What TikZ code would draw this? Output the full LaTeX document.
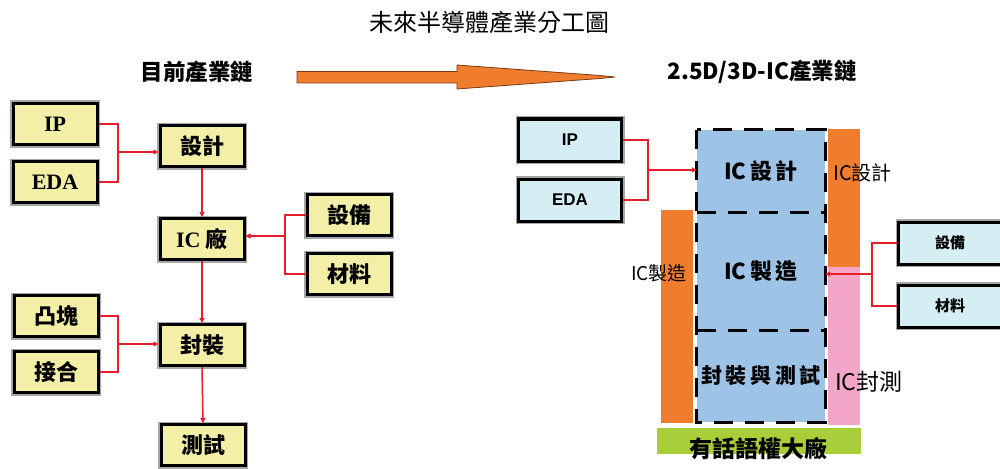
\documentclass[tikz,border=0pt]{standalone}
\usepackage{fontspec}
\setmainfont{Liberation Serif}
\newfontfamily\cjk{Noto Sans CJK TC}
\newfontfamily\arial{Liberation Sans}
\usetikzlibrary{arrows.meta}
\definecolor{boxyellow}{HTML}{F3EFA6}
\definecolor{boxcyan}{HTML}{D5EEF4}
\definecolor{icblue}{HTML}{9DC3E6}
\definecolor{barorange}{HTML}{F07D2E}
\definecolor{barpink}{HTML}{F3A6C8}
\definecolor{bargreen}{HTML}{A8CE3A}
\definecolor{linkred}{HTML}{E41E2B}
\definecolor{arrowedge}{HTML}{7A3A10}
\tikzset{
  framed/.style={draw=black, line width=3pt, preaction={draw=gray!70, line width=6pt}},
  ybox/.style={framed, fill=boxyellow, minimum width=84pt, minimum height=41pt, inner sep=0pt,
    font=\fontsize{22}{24}\selectfont\bfseries},
  cbox/.style={framed, fill=boxcyan, minimum width=103pt, minimum height=42pt, inner sep=0pt},
  link/.style={draw=linkred, line width=1.5pt},
  linkarrow/.style={link, -{Triangle[length=5pt,width=5pt]}},
  region/.style={minimum width=128pt, inner sep=0pt},
  dashline/.style={draw=black, line width=3pt, dash pattern=on 19pt off 12pt},
}
\begin{document}
\begin{tikzpicture}[x=1pt,y=-1pt]
\useasboundingbox (0,0) rectangle (1000,468);

% titles
\node (title) at (489,22) {\cjk\fontsize{24}{28}\selectfont 未來半導體產業分工圖};
\node (cur) at (197,72) {\cjk\bfseries\fontsize{22.5}{26}\selectfont 目前產業鏈};
\node (fut) at (762,72) {\cjk\bfseries\fontsize{22.5}{26}\selectfont 2.5D/3D-IC產業鏈};
\draw[fill=barorange, draw=arrowedge, line width=0.8pt]
  (297,71.5) -- (457,71.5) -- (457,65) -- (600,75.5) -- (615,77) -- (600,78.5) -- (457,89) -- (457,83) -- (297,83) -- cycle;

% left chain
\node[ybox] (ip) at (55,124) {IP};
\node[ybox] (eda) at (55,182) {EDA};
\node[ybox] (sj) at (202,146) {\cjk 設計};
\node[ybox] (icf) at (202,239) {IC \cjk 廠};
\node[ybox] (eq) at (349,215) {\cjk 設備};
\node[ybox] (mat) at (349,274) {\cjk 材料};
\node[ybox] (bump) at (56,316) {\cjk 凸塊};
\node[ybox] (bond) at (56,372) {\cjk 接合};
\node[ybox] (pkg) at (202,345) {\cjk 封裝};
\node[ybox] (test) at (203,445) {\cjk 測試};

\coordinate (j1) at (118,152);
\coordinate (j2) at (285,236);
\coordinate (j3) at (118,344);
\draw[link] (ip.east) -| (j1) |- (eda.east);
\draw[linkarrow] (j1) -- (sj.west |- j1);
\draw[link] (eq.west) -| (j2) |- (mat.west);
\draw[linkarrow] (j2) -- (icf.east |- j2);
\draw[link] (bump.east) -| (j3) |- (bond.east);
\draw[linkarrow] (j3) -- (pkg.west |- j3);
\draw[linkarrow] (sj.south) -- (icf.north);
\draw[linkarrow] (icf.south) -- (pkg.north);
\draw[linkarrow] (pkg.south) -- (test.north);

% right side bars
\fill[barorange] (661,210) rectangle (693,423);
\fill[barorange] (828,129) rectangle (860,267);
\fill[barpink] (828,267) rectangle (860,425);
\fill[bargreen] (657,428) rectangle (861,454);

% dashed stack
\fill[icblue] (697,130) rectangle (825,422);
\node[region, minimum height=82pt] (icd) at (761,171) {\cjk\bfseries\fontsize{22}{26}\selectfont IC\,設\,計};
\node[region, minimum height=118pt] (icm) at (761,271) {\cjk\bfseries\fontsize{22}{26}\selectfont IC\,製\,造};
\node[region, minimum height=92pt] (ict) at (761,376) {\cjk\bfseries\fontsize{21}{26}\selectfont 封\,裝\,與\,測\,試};
\draw[dashline] (icd.north west) rectangle (ict.south east);
\draw[dashline] (icd.south west) -- (icd.south east);
\draw[dashline] (icm.south west) -- (icm.south east);

\node (lblm) at (659,273) {\cjk\fontsize{19}{22}\selectfont IC製造};
\node[anchor=west, inner sep=0pt] (lbld) at (833,173) {\cjk\fontsize{20}{22}\selectfont IC設計};
\node[anchor=west, inner sep=0pt] (lblt) at (835,382) {\cjk\fontsize{23}{26}\selectfont IC封測};
\node (big) at (758,449) {\cjk\bfseries\fontsize{23}{26}\selectfont 有話語權大廠};

% right boxes
\node[cbox] (rip) at (570,140) {\arial\bfseries\fontsize{17}{20}\selectfont IP};
\node[cbox] (reda) at (570,200) {\arial\bfseries\fontsize{17}{20}\selectfont EDA};
\node[cbox] (req) at (950,243) {\cjk\bfseries\fontsize{15}{18}\selectfont 設備};
\node[cbox] (rmat) at (950,306) {\cjk\bfseries\fontsize{15}{18}\selectfont 材料};

\coordinate (j4) at (648,170);
\coordinate (j5) at (872,274);
\draw[link] (rip.east) -| (j4) |- (reda.east);
\draw[linkarrow] (j4) -- (icd.west |- j4);
\draw[link] (req.west) -| (j5) |- (rmat.west);
\draw[linkarrow] (j5) -- (icm.east |- j5);
\end{tikzpicture}
\end{document}
